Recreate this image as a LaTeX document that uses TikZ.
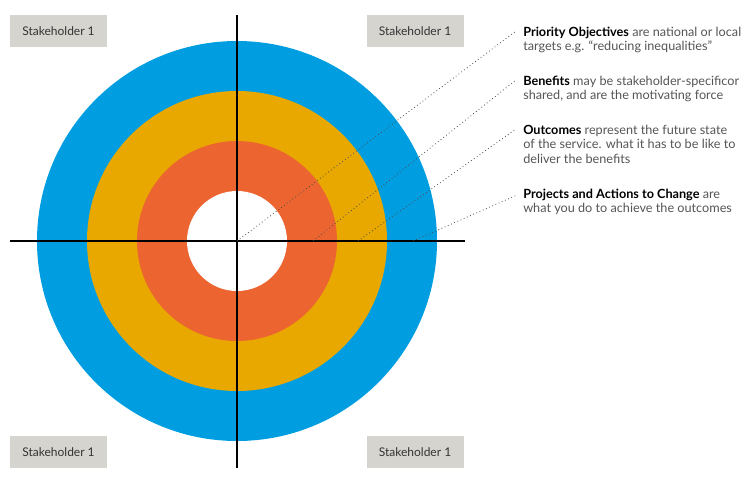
\documentclass[tikz,border=0pt]{standalone}
\usepackage{fontspec}
\setmainfont{Lato}
\definecolor{ringblue}{RGB}{0,158,224}
\definecolor{ringyellow}{RGB}{232,168,0}
\definecolor{ringorange}{RGB}{236,101,48}
\definecolor{boxgray}{RGB}{213,212,207}
\definecolor{txtgray}{RGB}{85,85,85}
\newcommand{\keyword}[1]{\textcolor{black}{\textbf{#1}}}
\begin{document}
\begin{tikzpicture}[x=0.75pt,y=-0.75pt,
  stake/.style={fill=boxgray,minimum width=72.75pt,minimum height=24pt,inner sep=0pt,text=black!80,font=\fontsize{9}{10}\selectfont},
  note/.style={anchor=north west,align=left,inner sep=0pt,text=txtgray,font=\fontsize{9.5}{11}\selectfont},
  pointer/.style={black!70,dotted,line width=0.6pt}]
\useasboundingbox (0,0) rectangle (756,479);

%---------------------------------------------------
%rings
\fill[ringblue]   (237,241) circle (200);
\fill[ringyellow] (237,241) circle (150);
\fill[ringorange] (237,241) circle (100);
\fill[white]      (237,241) circle (50);

%axes
\coordinate (top) at (237,15);  \coordinate (bot) at (237,468);
\coordinate (lft) at (10,241);  \coordinate (rgt) at (465,241);
\draw[line width=1.5pt] (top) -- (bot);
\draw[line width=1.5pt] (lft) -- (rgt);

%---------------------------------------------------
%stakeholders
\node[stake] (sh1) at (58.5,31)  {Stakeholder 1};
\node[stake] (sh2) at (415,31)   {Stakeholder 1};
\node[stake] (sh3) at (58.5,452) {Stakeholder 1};
\node[stake] (sh4) at (415,452)  {Stakeholder 1};

%---------------------------------------------------
%notes
\node[note] (obj) at (523,26.5)  {\keyword{Priority Objectives} are national or local\\targets e.g. ``reducing inequalities''};
\node[note] (ben) at (523,75.5)  {\keyword{Benefits} may be stakeholder-specificor\\shared, and are the motivating force};
\node[note] (out) at (523,124.5) {\keyword{Outcomes} represent the future state\\of the service. what it has to be like to\\deliver the benefits};
\node[note] (prj) at (523,188.5) {\keyword{Projects and Actions to Change} are\\what you do to achieve the outcomes};

%pointers
\coordinate (pObj) at (237,241); \coordinate (tObj) at (516,31);
\coordinate (pBen) at (313,241); \coordinate (tBen) at (516,80);
\coordinate (pOut) at (358,241); \coordinate (tOut) at (516,129);
\coordinate (pPrj) at (413,241); \coordinate (tPrj) at (517,195);
\draw[pointer] (pObj) -- (tObj);
\draw[pointer] (pBen) -- (tBen);
\draw[pointer] (pOut) -- (tOut);
\draw[pointer] (pPrj) -- (tPrj);

\end{tikzpicture}
\end{document}
